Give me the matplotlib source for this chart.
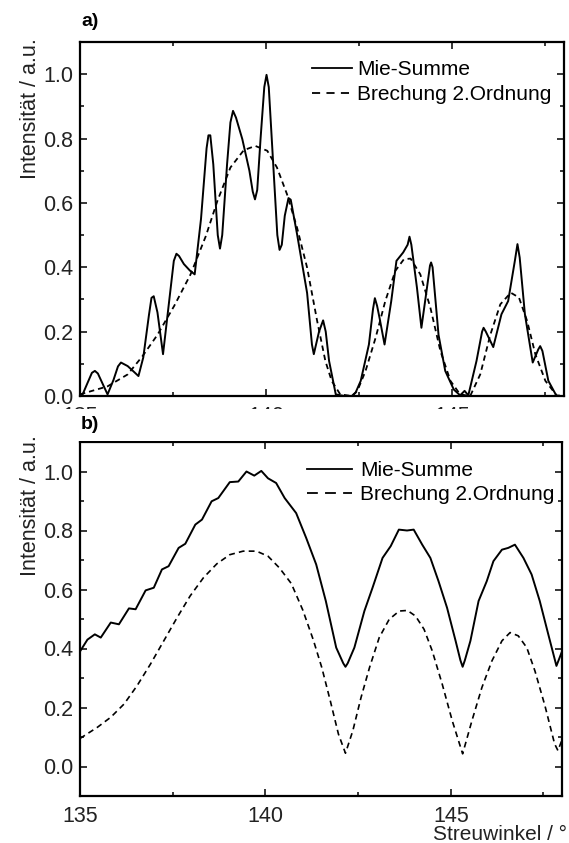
import numpy as np
import matplotlib
matplotlib.use('Agg')
import matplotlib.pyplot as plt
from matplotlib.lines import Line2D
from matplotlib.patches import Rectangle
from matplotlib.ticker import MultipleLocator

plt.rcParams['font.family'] = ['Liberation Sans', 'DejaVu Sans']

# panel a) - Mie-Summe (solid) and Brechung 2.Ordnung (dashed)
a_mie_x = [135.0, 135.07, 135.2, 135.32, 135.4, 135.48, 135.58, 135.74, 135.9, 136.02,
           136.1, 136.28, 136.45, 136.57, 136.7, 136.85, 136.92, 136.98, 137.08, 137.23,
           137.4, 137.52, 137.59, 137.66, 137.79, 137.95, 138.08, 138.25, 138.4, 138.45,
           138.5, 138.58, 138.7, 138.76, 138.82, 138.95, 139.04, 139.11, 139.19, 139.36,
           139.55, 139.64, 139.70, 139.76, 139.85, 139.95, 140.01, 140.07, 140.15, 140.3,
           140.36, 140.42, 140.5, 140.6, 140.66, 140.83, 141.1, 141.23, 141.28, 141.34,
           141.42, 141.53, 141.6, 141.69, 141.87, 142.1, 142.3, 142.4, 142.54, 142.76,
           142.87, 142.92, 142.98, 143.05, 143.18, 143.36, 143.5, 143.68, 143.8, 143.85,
           143.9, 144.05, 144.17, 144.3, 144.4, 144.43, 144.47, 144.63, 144.81, 145.04,
           145.21, 145.33, 145.43, 145.65, 145.8, 145.84, 145.9, 146.1, 146.32, 146.5,
           146.68, 146.75, 146.81, 146.95, 147.16, 147.31, 147.36, 147.42, 147.58, 147.8,
           148.0]
a_mie_y = [0.0, 0.005, 0.04, 0.072, 0.078, 0.07, 0.045, 0.005, 0.05, 0.092,
           0.104, 0.093, 0.075, 0.062, 0.12, 0.25, 0.305, 0.31, 0.26, 0.13,
           0.3, 0.42, 0.442, 0.435, 0.41, 0.39, 0.378, 0.55, 0.77, 0.81,
           0.81, 0.72, 0.5, 0.458, 0.5, 0.72, 0.85, 0.886, 0.865, 0.798,
           0.70, 0.635, 0.611, 0.64, 0.80, 0.96, 0.998, 0.96, 0.80, 0.50,
           0.454, 0.47, 0.56, 0.615, 0.61, 0.503, 0.32, 0.16, 0.13, 0.16,
           0.2, 0.235, 0.2, 0.109, 0.005, 0.0, 0.0, 0.01, 0.047, 0.16,
           0.27, 0.304, 0.28, 0.24, 0.16, 0.295, 0.42, 0.446, 0.47, 0.495,
           0.47, 0.337, 0.212, 0.32, 0.405, 0.415, 0.40, 0.19, 0.078, 0.02,
           0.002, 0.016, 0.002, 0.109, 0.2, 0.212, 0.2, 0.152, 0.254, 0.295,
           0.42, 0.472, 0.43, 0.254, 0.104, 0.145, 0.155, 0.14, 0.047, 0.0,
           0.0]

a_bre_x = [135.0, 135.74, 136.28, 136.68, 137.08, 137.53, 137.97, 138.38, 138.69, 139.04,
           139.4, 139.71, 140.03, 140.29, 140.56, 140.83, 141.1, 141.37, 141.59, 141.76,
           141.99, 142.3, 142.45, 142.67, 142.94, 143.2, 143.47, 143.7, 143.88, 144.14,
           144.41, 144.68, 144.95, 145.21, 145.48, 145.75, 146.02, 146.29, 146.57, 146.79,
           147.01, 147.23, 147.5, 147.8, 148.0]
a_bre_y = [0.005, 0.03, 0.067, 0.124, 0.19, 0.28, 0.378, 0.497, 0.606, 0.71,
           0.764, 0.777, 0.762, 0.71, 0.627, 0.523, 0.399, 0.233, 0.109, 0.047,
           0.005, 0.0, 0.016, 0.078, 0.181, 0.295, 0.389, 0.425, 0.427, 0.378,
           0.275, 0.14, 0.047, 0.005, 0.0, 0.067, 0.19, 0.285, 0.321, 0.306,
           0.233, 0.13, 0.047, 0.002, 0.0]

# panel b)
b_mie_x = [135.0, 135.2, 135.4, 135.56, 135.83, 136.05, 136.32, 136.5, 136.77, 136.99,
           137.21, 137.39, 137.66, 137.84, 138.11, 138.29, 138.55, 138.73, 139.04, 139.27,
           139.49, 139.7, 139.89, 140.07, 140.29, 140.52, 140.83, 141.1, 141.37, 141.63,
           141.91, 142.1, 142.16, 142.22, 142.4, 142.67, 142.89, 143.16, 143.38, 143.6,
           143.82, 144.0, 144.23, 144.45, 144.67, 144.9, 145.13, 145.26, 145.32, 145.38,
           145.53, 145.75, 145.97, 146.15, 146.38, 146.55, 146.73, 146.96, 147.18, 147.4,
           147.63, 147.85, 148.0]
b_mie_y = [0.39, 0.43, 0.448, 0.437, 0.488, 0.482, 0.536, 0.533, 0.597, 0.606,
           0.668, 0.679, 0.741, 0.755, 0.82, 0.837, 0.899, 0.91, 0.964, 0.966,
           1.0, 0.986, 1.002, 0.977, 0.961, 0.91, 0.859, 0.775, 0.685, 0.561,
           0.403, 0.35, 0.338, 0.35, 0.403, 0.527, 0.606, 0.707, 0.747, 0.803,
           0.8, 0.803, 0.752, 0.707, 0.628, 0.538, 0.426, 0.36, 0.338, 0.36,
           0.426, 0.561, 0.628, 0.696, 0.735, 0.741, 0.752, 0.707, 0.651, 0.561,
           0.448, 0.341, 0.39]

b_bre_x = [135.0, 135.47, 135.83, 136.19, 136.54, 136.9, 137.26, 137.62, 137.97, 138.33,
           138.69, 139.04, 139.4, 139.76, 140.07, 140.38, 140.7, 141.01, 141.29, 141.52,
           141.75, 141.97, 142.16, 142.36, 142.58, 142.81, 143.07, 143.34, 143.61, 143.83,
           144.05, 144.28, 144.5, 144.77, 145.04, 145.32, 145.57, 145.84, 146.11, 146.38,
           146.6, 146.82, 147.05, 147.27, 147.54, 147.8, 147.89, 148.0]
b_bre_y = [0.095, 0.133, 0.167, 0.212, 0.274, 0.347, 0.426, 0.505, 0.578, 0.64,
           0.687, 0.718, 0.73, 0.73, 0.713, 0.673, 0.62, 0.53, 0.43, 0.336,
           0.223, 0.11, 0.045, 0.122, 0.234, 0.336, 0.437, 0.499, 0.527, 0.529,
           0.51, 0.465, 0.392, 0.279, 0.155, 0.043, 0.155, 0.268, 0.358, 0.426,
           0.454, 0.443, 0.403, 0.324, 0.206, 0.077, 0.054, 0.09]

xticks = [135, 140, 145]
labels = ['Mie-Summe', 'Brechung 2.Ordnung']

W, H = 569, 843
fig = plt.figure(figsize=(W / 100, H / 100), dpi=100)

axA = fig.add_axes([80 / W, (H - 396) / H, 484 / W, 354 / H])
axB = fig.add_axes([80 / W, (H - 796) / H, 482 / W, 354 / H])


def style_axes(ax, ymin):
    ax.set_xlim(135, 148)
    ax.set_ylim(ymin, 1.1)
    ax.set_xticks(xticks)
    ax.set_xticklabels([str(t) for t in xticks])
    ax.xaxis.set_minor_locator(MultipleLocator(2.5))
    ax.set_yticks([0.0, 0.2, 0.4, 0.6, 0.8, 1.0])
    ax.set_yticklabels(['0.0', '0.2', '0.4', '0.6', '0.8', '1.0'])
    ax.yaxis.set_minor_locator(MultipleLocator(0.1))
    ax.tick_params(which='both', direction='in', top=True, right=True,
                   width=1.1, colors='black', labelsize=15.5, labelcolor='#222222')
    ax.tick_params(which='major', length=5)
    ax.tick_params(which='minor', length=3)
    ax.tick_params(axis='x', pad=7)
    ax.tick_params(axis='y', pad=5)
    for s in ax.spines.values():
        s.set_linewidth(1.6)


style_axes(axA, 0.0)
style_axes(axB, -0.1)

axA.plot(a_mie_x, a_mie_y, color='black', lw=1.4)
axA.plot(a_bre_x, a_bre_y, color='black', lw=1.3, linestyle=(0, (3, 2.2)))
axB.plot(b_mie_x, b_mie_y, color='black', lw=1.4)
axB.plot(b_bre_x, b_bre_y, color='black', lw=1.2, linestyle=(0, (3.5, 2.5)))

# legends
hA = [Line2D([], [], color='black', lw=1.3),
      Line2D([], [], color='black', lw=1.3, linestyle=(0, (4.5, 3.5)))]
axA.legend(hA, labels, loc='upper left', bbox_to_anchor=(0.479, 0.948), frameon=False,
           fontsize=15, handlelength=1.92, handletextpad=0.25, labelspacing=0.29,
           borderpad=0, borderaxespad=0)
hB = [Line2D([], [], color='black', lw=1.3),
      Line2D([], [], color='black', lw=1.3, linestyle=(0, (6, 4)))]
axB.legend(hB, labels, loc='upper left', bbox_to_anchor=(0.471, 0.946), frameon=False,
           fontsize=15, handlelength=2.16, handletextpad=0.38, labelspacing=0.24,
           borderpad=0, borderaxespad=0)

# white band hiding most of the x tick labels of panel a
fig.patches.append(Rectangle((0, (H - 441) / H), 1, 32 / H, transform=fig.transFigure,
                             facecolor='white', edgecolor='none', zorder=1))

fig.text(81 / W, 1 - 22 / H, 'a)', fontsize=14, fontweight='bold', va='center', zorder=3)
fig.text(81 / W, 1 - 424 / H, 'b)', fontsize=14, fontweight='bold', va='center', zorder=3)

fig.text(30 / W, 1 - 38 / H, 'Intensität / a.u.', rotation=90, ha='center', va='top',
         fontsize=15.5, color='#222222')
fig.text(30 / W, 1 - 435 / H, 'Intensität / a.u.', rotation=90, ha='center', va='top',
         fontsize=15.5, color='#222222')
fig.text(567 / W, 1 - 840 / H, 'Streuwinkel / °', ha='right', va='baseline',
         fontsize=15, color='#222222')

fig.savefig('out.png', dpi=100)
